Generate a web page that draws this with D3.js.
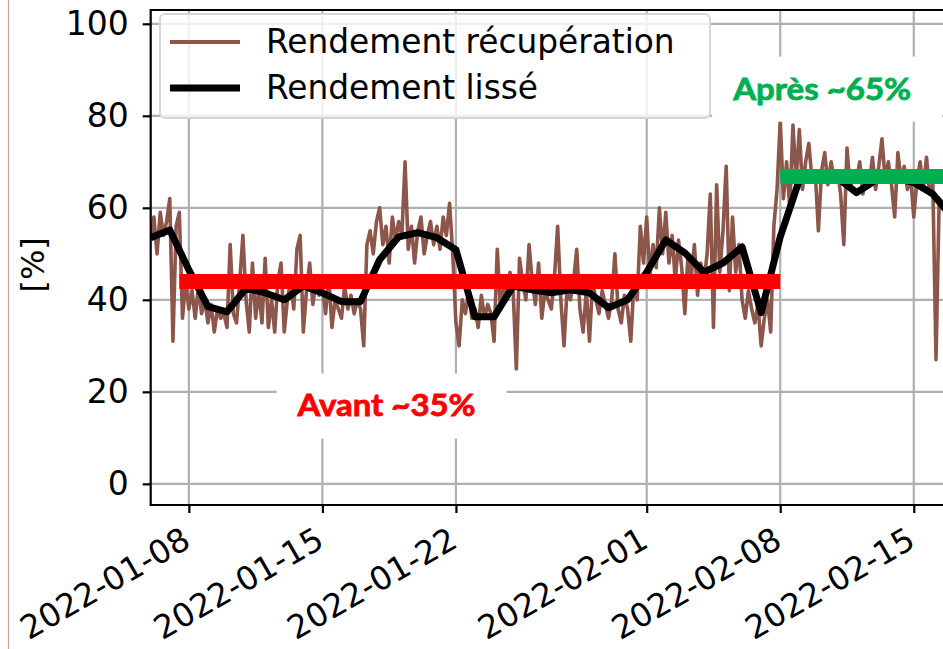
<!DOCTYPE html>
<html>
<head>
<meta charset="utf-8">
<script src="https://cdn.jsdelivr.net/npm/d3@7"></script>
<style>
  body { margin: 0; background: #fff; }
  svg { display: block; font-family: "DejaVu Sans", sans-serif; }
</style>
</head>
<body>
<div id="chart"></div>
<script>
var width = 943;
var height = 649;

/* raw recovery yield, one value every 4 hours from 2022-01-06 00:00 */
var rawStart = "2022-01-06T00:00:00Z";
var rawStepHours = 4;
var rawValues = [
    53, 58, 50, 59, 54, 57,   // 01-06
    62, 31, 56, 59, 36, 44,   // 01-07
    38, 42, 36, 43, 37, 40,   // 01-08
    35, 39, 33, 38, 36, 37,   // 01-09
    34, 52, 37, 35, 44, 54,   // 01-10
    40, 33, 48, 36, 42, 35,   // 01-11
    49, 34, 40, 33, 44, 48,   // 01-12
    33, 40, 44, 38, 51, 54,   // 01-13
    33, 42, 48, 39, 44, 41,   // 01-14
    43, 37, 45, 34, 40, 38,   // 01-15
    36, 43, 38, 41, 37, 40,   // 01-16
    38, 30, 52, 55, 50, 57,   // 01-17
    60, 52, 56, 48, 58, 53,   // 01-18
    57, 54, 70, 51, 56, 48,   // 01-19
    55, 58, 50, 54, 57, 52,   // 01-20
    56, 51, 58, 54, 61, 50,   // 01-21
    35, 30, 40, 37, 42, 36,   // 01-22
    38, 34, 41, 36, 39, 37,   // 01-23
    31, 51, 38, 43, 40, 46,   // 01-24
    42, 25, 49, 44, 40, 52,   // 01-25
    44, 39, 48, 36, 42, 40,   // 01-26
    38, 45, 56, 40, 30, 43,   // 01-27
    40, 44, 51, 38, 33, 42,   // 01-28
    31, 44, 40, 37, 42, 39,   // 01-29
    36, 40, 50, 38, 35, 41,   // 01-30
    38, 31, 44, 40, 56, 48,   // 01-31
    58, 45, 52, 47, 60, 50,   // 02-01
    59, 48, 54, 44, 53, 47,   // 02-02
    37, 50, 45, 52, 41, 48,   // 02-03
    44, 50, 63, 34, 65, 46,   // 02-04
    55, 69, 42, 58, 46, 52,   // 02-05
    40, 36, 42, 38, 35, 39,   // 02-06
    30, 36, 40, 33, 56, 64,   // 02-07
    79, 62, 70, 60, 78, 66,   // 02-08
    77, 64, 70, 74, 66, 68,   // 02-09
    55, 68, 72, 65, 70, 66,   // 02-10
    68, 63, 52, 73, 64, 67,   // 02-11
    66, 70, 63, 68, 65, 71,   // 02-12
    64, 69, 75, 66, 70, 65,   // 02-13
    58, 72, 66, 69, 64, 67,   // 02-14
    58, 66, 70, 64, 71, 63,   // 02-15
    65, 27, 62, 60, 63, 59,   // 02-16
    58
];

/* smoothed yield, one value per day from 2022-01-06 */
var smoothStart = "2022-01-06T00:00:00Z";
var smoothValues = [
    53.5, 55.2, 46.5, 38.5, 37.4, 42.5, 41.5, 40, 43, 41.5,
    39.6, 39.6, 48.7, 53.7, 54.6, 53.5, 50.9, 36.3, 36.3, 43,
    42.2, 41.5, 42.2, 41.5, 38.3, 40, 46, 53, 50.2, 46,
    48, 51.5, 37.2, 53.7, 66, 67.5, 66.5, 63.3, 66, 66.5,
    65.5, 63, 58
];

/* before / after levels */
var levelNames = ["Avant ~35%", "Après ~65%"];
var levelValues = [44, 66.8];
var levelStarts = ["2022-01-07T12:00:00Z", "2022-02-08T00:00:00Z"];
var levelEnds = ["2022-02-08T00:00:00Z", "2022-02-18T00:00:00Z"];
var levelColors = ["#ff0000", "#00b050"];
// where each label box sits (date, value)
var labelDates = ["2022-01-18T15:00:00Z", "2022-02-10T11:00:00Z"];
var labelLevels = [17.0, 85.9];

var xTicks = ["2022-01-08", "2022-01-15", "2022-01-22", "2022-02-01", "2022-02-08", "2022-02-15"];
var yTicks = [0, 20, 40, 60, 80, 100];
var legendLabels = ["Rendement récupération", "Rendement lissé"];

var parse = function (s) { return new Date(s); };

var rawData = rawValues.map(function (v, i) {
    return { x: d3.utcHour.offset(parse(rawStart), i * rawStepHours), y: v };
});
var smoothData = smoothValues.map(function (v, i) {
    return { x: d3.utcDay.offset(parse(smoothStart), i), y: v };
});

// plot area (right side runs past the picture edge)
var pLeft = 150.7, pRight = 971, pTop = 10, pBottom = 505;

var xScale = d3.scaleUtc()
    .domain([parse("2022-01-06T00:00:00Z"), parse("2022-02-18T00:00:00Z")])
    .range([pLeft, pRight]);
var yScale = d3.scaleLinear().domain([-4.6, 103]).range([pBottom, pTop]);

var svg = d3.select("#chart").append("svg")
    .attr("width", width)
    .attr("height", height);

// thin border line on the far left
svg.append("line")
    .attr("x1", 8.5).attr("x2", 8.5).attr("y1", 0).attr("y2", height)
    .attr("stroke", "#c9a197").attr("stroke-width", 1.2);

svg.append("clipPath").attr("id", "plot")
    .append("rect")
    .attr("x", pLeft).attr("y", pTop)
    .attr("width", pRight - pLeft).attr("height", pBottom - pTop);

// grid
var grid = svg.append("g").attr("clip-path", "url(#plot)");
grid.selectAll(".vg").data(xTicks).enter().append("line")
    .attr("x1", function (d) { return xScale(parse(d + "T00:00:00Z")); })
    .attr("x2", function (d) { return xScale(parse(d + "T00:00:00Z")); })
    .attr("y1", pTop).attr("y2", pBottom)
    .attr("stroke", "#b0b0b0").attr("stroke-width", 2.2);
grid.selectAll(".hg").data(yTicks).enter().append("line")
    .attr("x1", pLeft).attr("x2", pRight)
    .attr("y1", function (d) { return yScale(d); })
    .attr("y2", function (d) { return yScale(d); })
    .attr("stroke", "#b0b0b0").attr("stroke-width", 2.2);

var plot = svg.append("g").attr("clip-path", "url(#plot)");

var line = d3.line()
    .x(function (d) { return xScale(d.x); })
    .y(function (d) { return yScale(d.y); });

plot.append("path")
    .attr("d", line(rawData))
    .attr("fill", "none")
    .attr("stroke", "#8c564b")
    .attr("stroke-width", 3.6)
    .attr("stroke-linejoin", "round");

plot.append("path")
    .attr("d", line(smoothData))
    .attr("fill", "none")
    .attr("stroke", "#000")
    .attr("stroke-width", 7)
    .attr("stroke-linejoin", "round");

plot.selectAll(".level").data(levelValues).enter().append("line")
    .attr("x1", function (d, i) { return xScale(parse(levelStarts[i])); })
    .attr("x2", function (d, i) { return xScale(parse(levelEnds[i])); })
    .attr("y1", function (d) { return yScale(d); })
    .attr("y2", function (d) { return yScale(d); })
    .attr("stroke", function (d, i) { return levelColors[i]; })
    .attr("stroke-width", 15);

// annotation labels with white boxes
var ann = svg.selectAll(".ann").data(levelNames).enter().append("g")
    .attr("transform", function (d, i) {
        return "translate(" + xScale(parse(labelDates[i])) + "," + yScale(labelLevels[i]) + ")";
    });
ann.append("rect")
    .attr("x", -115).attr("y", -32)
    .attr("width", 230).attr("height", 65)
    .attr("fill", "#fff");
ann.append("text")
    .attr("text-anchor", "middle")
    .attr("dy", "0.35em")
    .attr("x", -5)
    .attr("textLength", 178)
    .attr("lengthAdjust", "spacingAndGlyphs")
    .style("font-family", "Lato, 'Open Sans', sans-serif")
    .style("font-weight", "bold")
    .style("font-size", "31px")
    .attr("fill", function (d, i) { return levelColors[i]; })
    .attr("stroke", function (d, i) { return levelColors[i]; })
    .attr("stroke-width", 0.8)
    .text(function (d) { return d; });

// axes
var xAxis = d3.axisBottom(xScale)
    .tickValues(xTicks.map(function (d) { return parse(d + "T00:00:00Z"); }))
    .tickFormat(d3.utcFormat("%Y-%m-%d"))
    .tickSize(8).tickPadding(6);
var gx = svg.append("g").attr("transform", "translate(0," + pBottom + ")").call(xAxis);
gx.select(".domain").remove();
gx.selectAll(".tick line").attr("stroke", "#000").attr("stroke-width", 2.2);
gx.selectAll(".tick text")
    .attr("font-size", 32.5)
    .attr("font-family", "DejaVu Sans")
    .attr("fill", "#000")
    .attr("text-anchor", "end")
    .attr("dy", null)
    .attr("y", 0)
    .attr("transform", "translate(3,41) rotate(-30)");

var yAxis = d3.axisLeft(yScale).tickValues(yTicks).tickSize(8).tickPadding(14);
var gy = svg.append("g").attr("transform", "translate(" + pLeft + ",0)").call(yAxis);
gy.select(".domain").remove();
gy.selectAll(".tick line").attr("stroke", "#000").attr("stroke-width", 2.2);
gy.selectAll(".tick text")
    .attr("font-size", 33)
    .attr("font-family", "DejaVu Sans")
    .attr("fill", "#000");

// spines
svg.append("line").attr("x1", pLeft).attr("x2", pLeft).attr("y1", pTop - 1).attr("y2", pBottom + 1)
    .attr("stroke", "#000").attr("stroke-width", 2.2);
svg.append("line").attr("x1", pLeft).attr("x2", width).attr("y1", pBottom).attr("y2", pBottom)
    .attr("stroke", "#000").attr("stroke-width", 2.2);
svg.append("line").attr("x1", pLeft).attr("x2", width).attr("y1", pTop).attr("y2", pTop)
    .attr("stroke", "#000").attr("stroke-width", 2.2);

svg.append("text")
    .attr("transform", "translate(44," + yScale(47.6) + ") rotate(-90)")
    .attr("text-anchor", "middle")
    .attr("font-size", 32)
    .text("[%]");

// legend
var legend = svg.append("g").attr("transform", "translate(160,14)");
legend.append("rect")
    .attr("width", 550).attr("height", 104)
    .attr("rx", 5)
    .attr("fill", "#fff").attr("fill-opacity", 0.8)
    .attr("stroke", "#d6d6d6").attr("stroke-width", 2);
var legendColors = ["#8c564b", "#000"];
var legendWidths = [4, 7];
var entries = legend.selectAll(".entry").data(legendLabels).enter().append("g")
    .attr("transform", function (d, i) { return "translate(0," + (28 + i * 46) + ")"; });
entries.append("line")
    .attr("x1", 10).attr("x2", 80)
    .attr("stroke", function (d, i) { return legendColors[i]; })
    .attr("stroke-width", function (d, i) { return legendWidths[i]; });
entries.append("text")
    .attr("x", 106).attr("y", 11)
    .attr("font-size", 32.8)
    .text(function (d) { return d; });
</script>
</body>
</html>
